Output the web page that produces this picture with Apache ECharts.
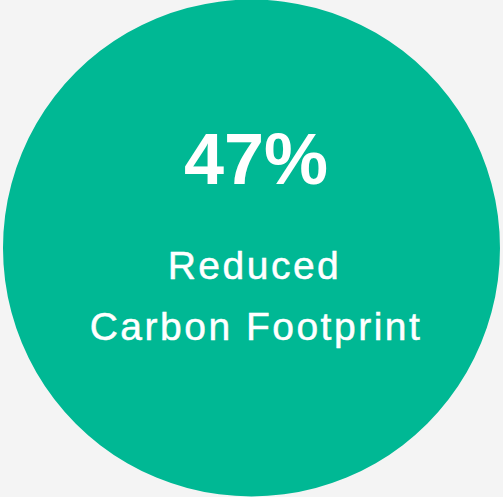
<!DOCTYPE html>
<html>
<head>
<meta charset="utf-8">
<script src="https://cdn.jsdelivr.net/npm/echarts@6/dist/echarts.min.js"></script>
<style>
  html, body { margin: 0; padding: 0; background: #f4f4f4; }
  #chart { width: 503px; height: 497px; }
</style>
</head>
<body>
<div id="chart"></div>
<script>
const metricValue = 47;
const metricUnit = '%';
const metricLabelLines = ['Reduced', 'Carbon Footprint'];
const sliceNames = ['Reduced Carbon Footprint'];

const chart = echarts.init(document.getElementById('chart'), null, { renderer: 'svg' });
chart.setOption({
  backgroundColor: '#f4f4f4',
  animation: false,
  series: [{
    type: 'pie',
    z: 1,
    center: [251.5, 248],
    radius: [0, 248.5],
    silent: true,
    label: { show: false },
    labelLine: { show: false },
    emphasis: { disabled: true },
    itemStyle: { color: '#00b894', borderWidth: 0 },
    data: [{ name: sliceNames[0], value: metricValue }]
  }],
  graphic: [
    {
      type: 'text', z: 100,
      style: {
        x: 256, y: 159, text: metricValue + metricUnit,
        fill: '#ffffff', font: 'bold 72px "Liberation Sans", Arial, sans-serif',
        textAlign: 'center', textVerticalAlign: 'middle'
      }
    },
    {
      type: 'text', z: 100,
      style: {
        x: 254.5, y: 265, text: metricLabelLines[0],
        fill: '#ffffff', font: '39px "Liberation Sans", Arial, sans-serif',
        stroke: '#ffffff', lineWidth: 0.5,
        textAlign: 'center', textVerticalAlign: 'middle'
      }
    },
    {
      type: 'text', z: 100,
      style: {
        x: 256, y: 326, text: metricLabelLines[1],
        fill: '#ffffff', font: '39px "Liberation Sans", Arial, sans-serif',
        stroke: '#ffffff', lineWidth: 0.5,
        textAlign: 'center', textVerticalAlign: 'middle'
      }
    }
  ]
});
document.querySelectorAll('#chart text').forEach(function (t) {
  if (metricLabelLines.indexOf(t.textContent) >= 0) {
    t.style.letterSpacing = '2.5px';
  }
});
</script>
</body>
</html>
